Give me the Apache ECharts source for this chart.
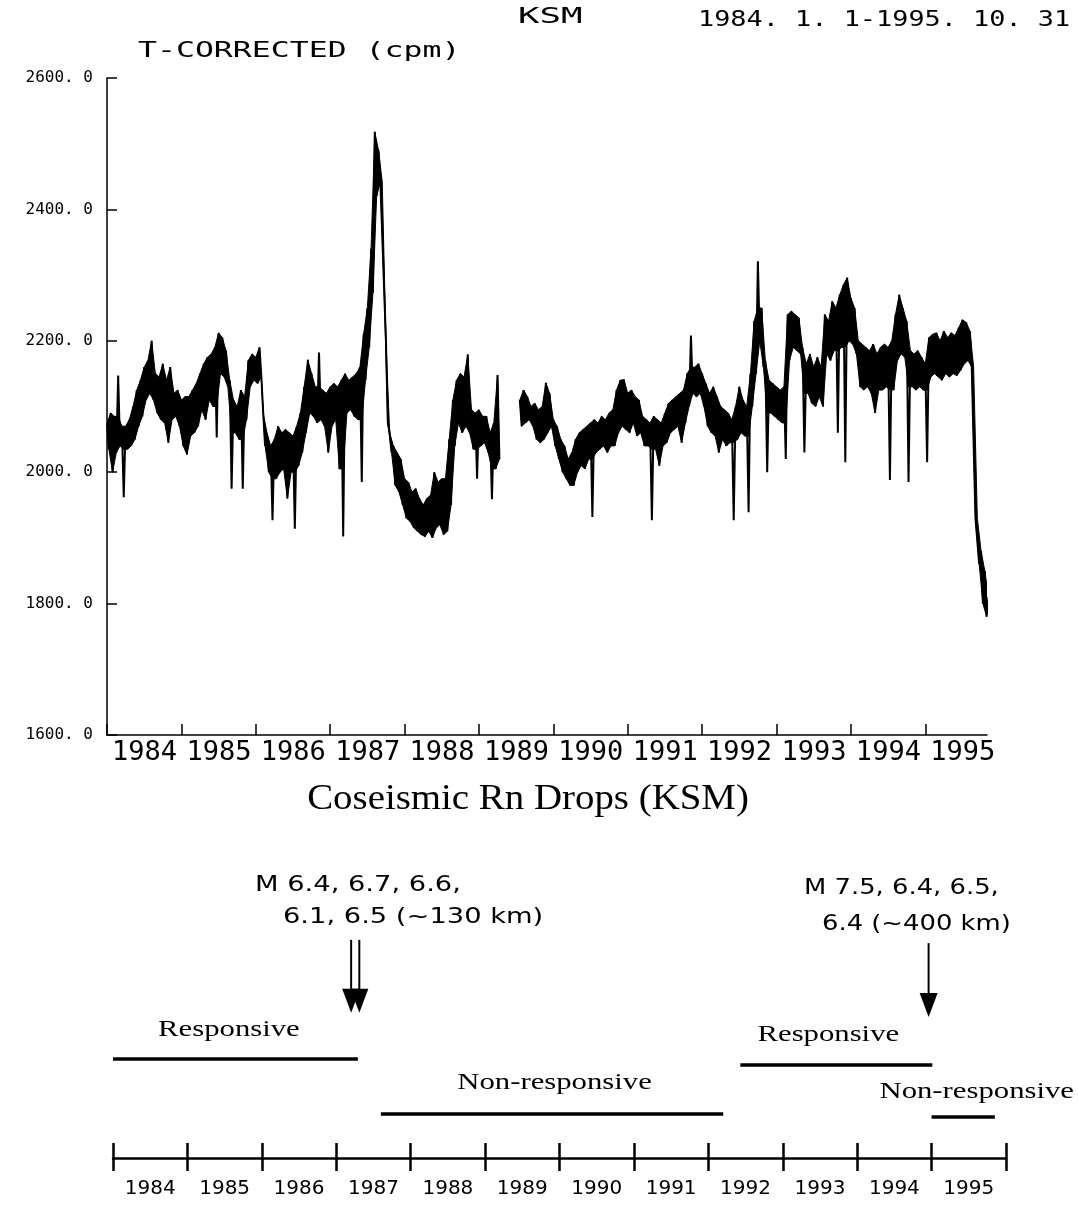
<!DOCTYPE html>
<html>
<head>
<meta charset="utf-8">
<script src="https://cdn.jsdelivr.net/npm/echarts@6/dist/echarts.min.js"></script>
<style>
html,body{margin:0;padding:0;background:#fff;}
#chart{width:1078px;height:1207px;}
</style>
</head>
<body>
<div id="chart"></div>
<script>
// ---------------- DATA ----------------
// Radon count (T-corrected, cpm), sampled every 0.05 yr from 1984.00.
// hi = upper edge of the noisy trace, lo = lower edge (incl. downward spikes).
const startYear = 1984.0;
const stepYear = 0.05;
const hi = [
 2075,2090,2085,2147,2070,2070,2080,2100,2125,2140,
 2160,2170,2200,2150,2145,2165,2140,2160,2120,2125,
 2110,2115,2115,2125,2135,2150,2165,2175,2180,2190,
 2212,2205,2185,2140,2110,2100,2125,2115,2170,2180,
 2175,2190,2090,2060,2040,2050,2070,2060,2065,2060,
 2055,2070,2090,2130,2171,2150,2130,2182,2125,2120,
 2130,2135,2130,2140,2150,2140,2145,2150,2160,2210,
 2250,2340,2518,2490,2442,2200,2060,2040,2030,2020,
 1990,1985,1970,1975,1960,1950,1960,1965,2000,1985,
 1990,1990,2050,2110,2140,2150,2145,2179,2095,2090,
 2095,2085,2085,2060,2075,2148,null,null,null,null,
 null,2110,2125,2115,2100,2105,2095,2100,2136,2120,
 2080,2070,2050,2040,2020,2030,2050,2060,2065,2070,
 2075,2080,2075,2085,2080,2090,2095,2125,2140,2141,
 2120,2125,2115,2110,2085,2080,2075,2085,2080,2075,
 2090,2105,2110,2115,2120,2125,2150,2208,2160,2165,
 2150,2135,2120,2130,2115,2100,2095,2090,2080,2100,
 2130,2110,2100,2150,2230,2321,2250,2170,2140,2135,
 2130,2125,2130,2240,2245,2240,2235,2190,2165,2180,
 2160,2175,2160,2240,2230,2260,2250,2270,2285,2296,
 2265,2250,2200,2195,2190,2185,2195,2180,2190,2195,
 2190,2200,2240,2270,2250,2230,2185,2180,2185,2175,
 2165,2205,2210,2212,2200,2215,2205,2212,2208,2220,
 2232,2228,2215,2160,1930,1880,1850,1810
];
const lo = [
 2035,2000,2030,2040,1962,2035,2040,2050,2070,2085,
 2110,2120,2110,2090,2080,2075,2045,2080,2085,2070,
 2040,2027,2055,2060,2070,2095,2080,2110,2100,2053,
 2150,2145,2130,1975,2060,2050,1975,2080,2130,2140,
 2135,2145,2040,2000,1927,1990,2000,2005,1960,2000,
 1914,2010,2030,2060,2090,2085,2075,2080,2070,2030,
 2070,2080,2005,1902,2090,2095,2085,2080,1985,2140,
 2190,2273,2420,2442,2280,2075,2030,1980,1970,1950,
 1930,1925,1915,1910,1905,1902,1910,1900,1915,1920,
 1905,1910,1950,2040,2075,2060,2070,2060,2035,1990,
 2040,2045,2030,1959,2005,2020,null,null,null,null,
 null,2070,2075,2080,2070,2050,2045,2050,2060,2070,
 2040,2020,2000,1990,1980,1980,2000,2010,2005,2020,
 1932,2030,2035,2040,2030,2040,2040,2060,2070,2065,
 2060,2075,2055,2060,2040,2040,1927,2035,2010,2040,
 2045,2060,2065,2070,2045,2075,2100,2120,2115,2120,
 2100,2070,2060,2055,2030,2050,2040,2045,1927,2050,
 2060,2055,1939,2100,2150,2200,2160,2000,2090,2085,
 2080,2075,2020,2170,2190,2185,2180,2030,2120,2105,
 2100,2115,2100,2180,2170,2185,2060,2190,2015,2200,
 2195,2180,2130,2125,2130,2120,2090,2125,2125,2130,
 1988,2125,2170,2180,2175,1985,2130,2125,2130,2125,
 2015,2145,2150,2145,2140,2150,2145,2150,2147,2155,
 2165,2170,2160,1930,1860,1800,1780,1776
];
const yMin = 1600, yMax = 2600, yStep = 200;
const xMin = 1984, xMax = 1995.83;
const yearTicks = [1984,1985,1986,1987,1988,1989,1990,1991,1992,1993,1994,1995];
const timelineYears = ['1984','1985','1986','1987','1988','1989','1990','1991','1992','1993','1994','1995'];
const quakeYears = [1987.20, 1987.31, 1994.96];
const periodNames = ['Responsive','Non-responsive','Responsive','Non-responsive'];
const periodFrom = [1984.0, 1987.60, 1992.43, 1995.0];
const periodTo   = [1987.29, 1992.20, 1995.01, 1995.85];

// ---------------- LAYOUT (not data) ----------------
const periodLayout = [
  {level:0.332, dx:-6.5, dy:-29.5},
  {level:0.148, dx:2.5,  dy:-31},
  {level:0.312, dx:-8,   dy:-30},
  {level:0.138, dx:13.5, dy:-25}
];
const arrowLayout = [
  {top:0.732, tip:0.487},
  {top:0.732, tip:0.487},
  {top:0.721, tip:0.473}
];

// zig-zag trace: upper and lower edges alternate (draws the band texture and the spikes)
const trace = [];
for (let i = 0; i < hi.length; i++) {
  const t = startYear + i * stepYear;
  if (hi[i] == null) { trace.push([t, '-']); continue; }
  trace.push([t, hi[i]]);
  trace.push([t + stepYear / 2, lo[i]]);
}
// contiguous recording runs (between data gaps)
const runs = [];
let runStart = null;
for (let i = 0; i < hi.length; i++) {
  if (hi[i] == null) { if (runStart !== null) { runs.push([runStart, i - 1]); runStart = null; } }
  else if (runStart === null) runStart = i;
}
if (runStart !== null) runs.push([runStart, hi.length - 1]);
// solid core of the band: isolated single-sample spikes are left to the zig-zag line only
function coreHi(i){
  const a = hi[i-1], b = hi[i+1];
  if (a != null && b != null && hi[i] > Math.max(a, b) + 40) return Math.max(a, b);
  return hi[i];
}
function coreLo(i){
  const a = lo[i-1], b = lo[i+1];
  if (a != null && b != null && lo[i] < Math.min(a, b) - 40) return Math.min(a, b);
  return lo[i];
}

const black = '#000';
const chart = echarts.init(document.getElementById('chart'), null, {renderer:'canvas'});

const option = {
  animation: false,
  backgroundColor: '#fff',
  grid: [
    {left:107, right:91, top:78, bottom:472, outerBoundsMode:'none'},
    {left:113, right:72, top:860, bottom:49, outerBoundsMode:'none'}
  ],
  xAxis: [
    {
      gridIndex:0, type:'value', min:xMin, max:xMax,
      axisLine:{show:true, onZero:false, lineStyle:{color:black, width:1.5}},
      axisTick:{show:true, inside:true, length:11, customValues:yearTicks, lineStyle:{color:black, width:1.5}},
      axisLabel:{customValues:yearTicks, formatter:(v)=>String(Math.round(v)), align:'left',
        padding:[0,0,0,5], margin:4, color:black, fontFamily:'DejaVu Sans Mono', fontSize:27},
      splitLine:{show:false}
    },
    {
      gridIndex:1, type:'category', data:timelineYears, position:'bottom', boundaryGap:true,
      axisLine:{show:true, lineStyle:{color:black, width:2.5}},
      axisTick:{show:true, inside:true, length:15, interval:0, lineStyle:{color:black, width:2.5}},
      axisLabel:{show:false}, splitLine:{show:false}
    },
    {
      gridIndex:1, type:'category', data:timelineYears, position:'bottom', boundaryGap:true,
      axisLine:{show:false},
      axisTick:{show:true, inside:false, length:13, interval:0, lineStyle:{color:black, width:2.5}},
      axisLabel:{show:true, interval:0, margin:21, color:black, fontFamily:'DejaVu Sans', fontSize:20},
      splitLine:{show:false}
    },
    {gridIndex:1, type:'value', min:1984, max:1996, show:false}
  ],
  yAxis: [
    {
      gridIndex:0, type:'value', min:yMin, max:yMax, interval:yStep,
      axisLine:{show:true, onZero:false, lineStyle:{color:black, width:1.5}},
      axisTick:{show:true, inside:true, length:10, lineStyle:{color:black, width:1.5}},
      axisLabel:{formatter:(v)=>v.toFixed(1).replace('.', '. '), margin:14, color:black,
        fontFamily:'DejaVu Sans Mono', fontSize:16},
      splitLine:{show:false}
    },
    {gridIndex:1, type:'value', min:0, max:1, show:false}
  ],
  series: [
    {
      type:'custom', xAxisIndex:0, yAxisIndex:0, silent:true, clip:true,
      data: runs.map(r=>[startYear + r[0]*stepYear, hi[r[0]], r[0], r[1]]),
      renderItem:(params, api)=>{
        const a = api.value(2), b = api.value(3);
        const pts = [];
        for (let i = a; i <= b; i++) pts.push(api.coord([startYear + i*stepYear, coreHi(i)]));
        for (let i = b; i >= a; i--) pts.push(api.coord([startYear + i*stepYear + stepYear/2, coreLo(i)]));
        return {type:'polygon', shape:{points:pts}, style:{fill:black, stroke:black, lineWidth:1}};
      }
    },
    {
      type:'line', xAxisIndex:0, yAxisIndex:0, data:trace,
      showSymbol:false, symbol:'none', connectNulls:false, silent:true,
      lineStyle:{color:black, width:2, join:'bevel'}
    },
    {
      type:'custom', xAxisIndex:3, yAxisIndex:1, clip:false, silent:true,
      data: periodNames.map((n,i)=>[periodFrom[i], periodTo[i], i]),
      renderItem:(params, api)=>{
        const i = api.value(2);
        const L = periodLayout[i];
        const a = api.coord([api.value(0), L.level]);
        const b = api.coord([api.value(1), L.level]);
        return {type:'group', children:[
          {type:'line', shape:{x1:a[0], y1:a[1], x2:b[0], y2:b[1]}, style:{stroke:black, lineWidth:3.5}},
          {type:'text', x:(a[0]+b[0])/2 + L.dx, y:a[1] + L.dy, scaleX:1.28,
            style:{text:periodNames[i], fill:black, fontSize:24, fontFamily:'Liberation Serif',
              align:'center', verticalAlign:'middle', textAlign:'center', textVerticalAlign:'middle'}}
        ]};
      }
    },
    {
      type:'custom', xAxisIndex:3, yAxisIndex:1, clip:false, silent:true,
      data: quakeYears.map((y,i)=>[y, i]),
      renderItem:(params, api)=>{
        const i = api.value(1);
        const L = arrowLayout[i];
        const p0 = api.coord([api.value(0), L.top]);
        const p1 = api.coord([api.value(0), L.tip]);
        const headLen = 24, halfW = 9;
        return {type:'group', children:[
          {type:'line', shape:{x1:p0[0], y1:p0[1], x2:p1[0], y2:p1[1]-headLen+2}, style:{stroke:black, lineWidth:2}},
          {type:'polygon', shape:{points:[[p1[0]-halfW, p1[1]-headLen],[p1[0]+halfW, p1[1]-headLen],[p1[0], p1[1]]]}, style:{fill:black}}
        ]};
      }
    }
  ],
  graphic: {elements: [
    {type:'text', x:518, y:18, scaleX:1.7, z:10,
      style:{text:'KSM', fill:black, fontSize:21, fontFamily:'DejaVu Sans Mono', align:'left', verticalAlign:'middle'}},
    {type:'text', x:698, y:21, scaleX:1.28, z:10,
      style:{text:'1984. 1. 1-1995. 10. 31', fill:black, fontSize:21, fontFamily:'DejaVu Sans Mono', align:'left', verticalAlign:'middle'}},
    {type:'text', x:138, y:52, scaleX:1.5, z:10,
      style:{text:'T-CORRECTED (cpm)', fill:black, fontSize:21, fontFamily:'DejaVu Sans Mono', align:'left', verticalAlign:'middle'}},
    {type:'text', x:528, y:800, scaleX:1.08, z:10,
      style:{text:'Coseismic Rn Drops (KSM)', fill:black, fontSize:36, fontFamily:'Liberation Serif', align:'center', verticalAlign:'middle'}},
    {type:'text', x:255, y:886, scaleX:1.3, z:10,
      style:{text:'M 6.4, 6.7, 6.6,', fill:black, fontSize:21, fontFamily:'DejaVu Sans', align:'left', verticalAlign:'middle'}},
    {type:'text', x:283, y:918, scaleX:1.3, z:10,
      style:{text:'6.1, 6.5 (~130 km)', fill:black, fontSize:21, fontFamily:'DejaVu Sans', align:'left', verticalAlign:'middle'}},
    {type:'text', x:804, y:889, scaleX:1.23, z:10,
      style:{text:'M 7.5, 6.4, 6.5,', fill:black, fontSize:21, fontFamily:'DejaVu Sans', align:'left', verticalAlign:'middle'}},
    {type:'text', x:822, y:925, scaleX:1.23, z:10,
      style:{text:'6.4 (~400 km)', fill:black, fontSize:21, fontFamily:'DejaVu Sans', align:'left', verticalAlign:'middle'}}
  ]}
};
chart.setOption(option);
</script>
</body>
</html>
